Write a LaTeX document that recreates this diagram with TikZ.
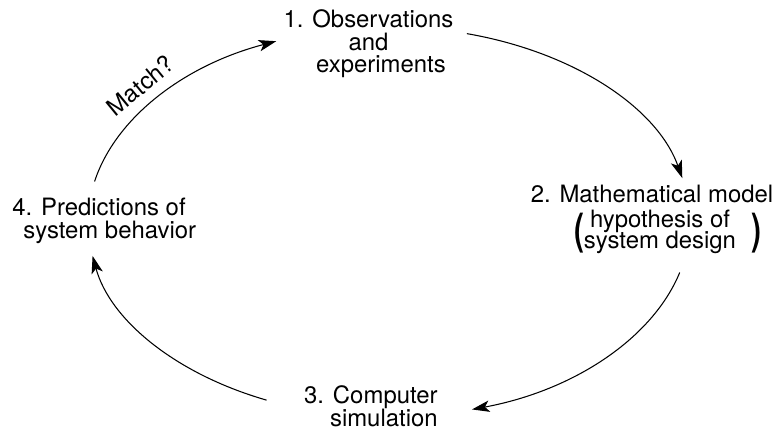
\documentclass[tikz,border=0pt]{standalone}
\usepackage{fontspec}
\setmainfont{TeX Gyre Heros}
\usepackage{graphicx}
\usetikzlibrary{calc,arrows.meta}
\newcommand{\cycfont}{\fontsize{13.6}{12.8}\selectfont\lineskiplimit=-50pt\relax}
\newcommand{\bigparen}[1]{\raisebox{-9.8pt}{\scalebox{1.25}[1.8]{\bfseries #1}}}
\newcommand{\stackc}[2]{\vtop{\baselineskip=11.8pt\halign{\hfil##\hfil\cr#1\cr#2\cr}}}
\tikzset{lbl/.style={inner sep=0pt,font=\cycfont}}
\tikzset{cyc/.style={line width=0.6pt,-{Stealth[length=10pt,width=6.5pt,inset=2.5pt]}}}

\begin{document}
\begin{tikzpicture}
	\useasboundingbox (0,0) rectangle (15.48,8.6);
	% the four steps
	\node [lbl, align=center, anchor=north] (obs) at (7.37,8.41) {1. Observations\\and\\\hspace*{0.5cm}experiments};
	\node [lbl, align=center, anchor=north] (model) at (13.04,4.908) {2. Mathematical model\\[0.05cm]\hspace*{0.62cm}\bigparen{(}\stackc{hypothesis of}{system design}\hspace{0.3cm}\bigparen{)}};
	\node [lbl, align=right, anchor=north east] (sim) at (8.76,0.89) {3. Computer\\simulation};
	\node [lbl, align=left, anchor=north west] (pred) at (0.24,4.64) {4. Predictions of\\\hspace*{0.22cm}system behavior};
	
	% ends of the arcs, on one ellipse
	\coordinate (ctr) at (7.78,4.16);
	\coordinate (predout) at ($(ctr)+(168:6.02 and 3.9)$);
	\coordinate (obsin) at ($(ctr)+(112:6.02 and 3.9)$);
	\coordinate (obsout) at ($(ctr)+(75:6.02 and 3.9)$);
	\coordinate (modelin) at ($(ctr)+(13:6.02 and 3.9)$);
	\coordinate (modelout) at ($(ctr)+(-15:6.02 and 3.9)$);
	\coordinate (simin) at ($(ctr)+(-74:6.02 and 3.9)$);
	\coordinate (simout) at ($(ctr)+(246:6.02 and 3.9)$);
	\coordinate (predin) at ($(ctr)+(190:6.02 and 3.9)$);
	
	\draw [cyc] (predout) .. controls +(0.416,1.268) and +(-1.855,-0.486) .. node [lbl, pos=0.47, sloped, above=6pt] (match) {Match?} (obsin);
	\draw [cyc] (obsout) .. controls +(2.150,-0.373) and +(-0.501,1.405) .. (modelin);
	\draw [cyc] (modelout) .. controls +(-0.547,-1.323) and +(2.032,0.377) .. (simin);
	\draw [cyc] (simout) .. controls +(-1.828,0.527) and +(0.347,-1.277) .. (predin);
\end{tikzpicture}
\end{document}
